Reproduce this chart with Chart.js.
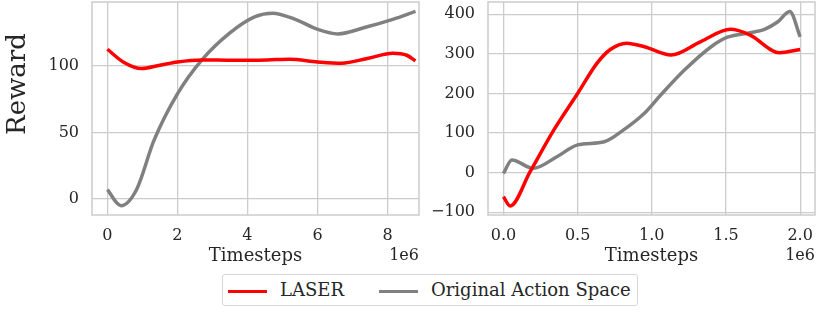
<!DOCTYPE html>
<html>
<head>
<meta charset="utf-8">
<script src="https://cdn.jsdelivr.net/npm/chart.js@4.4.1/dist/chart.umd.min.js"></script>
<style>
  body { margin: 0; background: #fff; }
  #wrap { position: relative; width: 830px; height: 312px; font-family: "DejaVu Serif", serif; color: #262626; }
  canvas { position: absolute; top: 0; }
  #left-chart { left: 0; }
  #right-chart { left: 420px; }
  .legend { position: absolute; left: 222px; top: 274px; width: 414px; height: 30px; border: 1px solid #d6d6d6; border-radius: 3px; font-size: 18px; }
  .legend-item { position: absolute; top: 0; height: 30px; line-height: 30px; white-space: nowrap; }
  .legend-swatch { display: inline-block; width: 39px; height: 3px; vertical-align: middle; margin-right: 13px; }
</style>
</head>
<body>
<div id="wrap">
  <canvas id="left-chart" width="420" height="270"></canvas>
  <canvas id="right-chart" width="410" height="270"></canvas>
  <div class="legend" id="legend"></div>
</div>
<script>
// data (timesteps in millions)
const seriesNames = ["LASER", "Original Action Space"]
const seriesColors = ["#ff0000", "#808080"]

// left panel
const leftLaserSteps = [0, 0.45, 0.98, 1.5, 2.0, 2.7, 3.6, 4.57, 5.2, 6.0, 6.68, 7.46, 8.15, 8.55, 8.8]
const leftLaser = [112.5, 103, 98, 100.5, 103, 104.5, 104.2, 104.5, 105, 103, 102, 105.8, 109.5, 108, 103.8]
const leftOriginalSteps = [0, 0.39, 0.83, 1.33, 2.0, 2.7, 3.49, 4.22, 4.71, 5.4, 5.99, 6.58, 7.37, 8.15, 8.8]
const leftOriginal = [7, -5, 7, 44, 79, 104.5, 124.6, 137, 139.6, 134.6, 127.6, 124, 129, 135, 141]

// right panel
const rightLaserSteps = [0, 0.045, 0.18, 0.34, 0.5, 0.63, 0.72, 0.83, 0.95, 1.13, 1.33, 1.53, 1.66, 1.86, 2.0]
const rightLaser = [-61, -84, 2.5, 108, 200, 276, 311, 327, 318, 297, 331, 362, 348, 303, 311]
const rightOriginalSteps = [0, 0.057, 0.2, 0.36, 0.5, 0.68, 0.81, 0.95, 1.06, 1.22, 1.4, 1.51, 1.67, 1.76, 1.85, 1.93, 2.0]
const rightOriginal = [-2, 32, 11, 40, 70, 78, 108, 150, 196, 259, 318, 342, 354, 362, 381, 407, 343]

const leftXTicks = [0, 2, 4, 6, 8]
const rightXTicks = [0, 0.5, 1.0, 1.5, 2.0]

const textColor = "#262626"
const gridColor = "#cccccc"
const fontFamily = "'DejaVu Serif', serif"

function toPoints(steps, values) {
  return steps.map((s, i) => ({ x: s, y: values[i] }))
}

function makeDataset(i, steps, values) {
  return {
    label: seriesNames[i],
    data: toPoints(steps, values),
    borderColor: seriesColors[i],
    borderWidth: 3.5,
    pointRadius: 0,
    cubicInterpolationMode: "monotone",
    fill: false,
  }
}

// draws the light frame round the plot area
const framePlugin = {
  id: "frame",
  beforeDatasetsDraw(chart) {
    const { ctx, chartArea: a } = chart
    ctx.save()
    ctx.strokeStyle = gridColor
    ctx.lineWidth = 1.5
    ctx.strokeRect(a.left, a.top, a.right - a.left, a.bottom - a.top)
    ctx.restore()
  },
}

// "1e6" offset text under the right end of the x axis
const offsetPlugin = {
  id: "offsetText",
  afterDraw(chart) {
    const { ctx, chartArea: a } = chart
    ctx.save()
    ctx.font = "16px " + fontFamily
    ctx.fillStyle = textColor
    ctx.textAlign = "right"
    ctx.textBaseline = "middle"
    ctx.fillText("1e6", a.right, 256)
    ctx.restore()
  },
}

// big "Reward" label on the left
const rewardPlugin = {
  id: "reward",
  afterDraw(chart) {
    const ctx = chart.ctx
    ctx.save()
    ctx.translate(18, 84)
    ctx.rotate(-Math.PI / 2)
    ctx.font = "26px " + fontFamily
    ctx.fillStyle = textColor
    ctx.textAlign = "center"
    ctx.textBaseline = "middle"
    ctx.fillText("Reward", 0, 0)
    ctx.restore()
  },
}

function makeOptions(cfg) {
  return {
    responsive: false,
    animation: false,
    devicePixelRatio: 1,
    layout: { padding: { top: 2, right: cfg.padRight, left: 0, bottom: 0 } },
    plugins: { legend: { display: false }, tooltip: { enabled: false } },
    scales: {
      x: {
        type: "linear",
        min: cfg.xMin,
        max: cfg.xMax,
        afterFit: (scale) => {
          scale.height = 55
          scale.paddingLeft = 0
          scale.paddingRight = 0
        },
        afterBuildTicks: (scale) => { scale.ticks = cfg.xTicks.map((v) => ({ value: v })) },
        border: { display: false },
        grid: { color: gridColor, lineWidth: 1.3, drawTicks: false },
        ticks: {
          padding: 11,
          color: textColor,
          font: { family: fontFamily, size: 16 },
          maxRotation: 0,
          callback: (v) => v.toFixed(cfg.xDigits),
        },
        title: {
          display: true,
          text: "Timesteps",
          color: textColor,
          font: { family: fontFamily, size: 18 },
          padding: { top: 0, bottom: 3 },
        },
      },
      y: {
        min: cfg.yMin,
        max: cfg.yMax,
        afterFit: (scale) => {
          scale.width = cfg.yWidth
          scale.paddingTop = 0
          scale.paddingBottom = 0
        },
        border: { display: false },
        grid: { color: gridColor, lineWidth: 1.3, drawTicks: false },
        ticks: {
          stepSize: cfg.yStep,
          includeBounds: false,
          padding: 13,
          color: textColor,
          font: { family: fontFamily, size: 16 },
          callback: (v) => (v < 0 ? "\u2212" + Math.abs(v) : String(v)),
        },
      },
    },
  }
}

let leftChart = new Chart(document.getElementById("left-chart"), {
  type: "line",
  data: {
    datasets: [
      makeDataset(0, leftLaserSteps, leftLaser),
      makeDataset(1, leftOriginalSteps, leftOriginal),
    ],
  },
  options: makeOptions({ padRight: 1, xMin: -0.44, xMax: 8.9, xTicks: leftXTicks, xDigits: 0, yMin: -12, yMax: 148, yStep: 50, yWidth: 92 }),
  plugins: [framePlugin, offsetPlugin, rewardPlugin],
})

let rightChart = new Chart(document.getElementById("right-chart"), {
  type: "line",
  data: {
    datasets: [
      makeDataset(0, rightLaserSteps, rightLaser),
      makeDataset(1, rightOriginalSteps, rightOriginal),
    ],
  },
  options: makeOptions({ padRight: 15, xMin: -0.104, xMax: 2.1, xTicks: rightXTicks, xDigits: 1, yMin: -107, yMax: 431, yStep: 100, yWidth: 68 }),
  plugins: [framePlugin, offsetPlugin],
})

// legend built from the series names and colours
const legend = document.getElementById("legend")
const itemLefts = [5, 156]
seriesNames.forEach((name, i) => {
  const item = document.createElement("div")
  item.className = "legend-item"
  item.style.left = itemLefts[i] + "px"
  const swatch = document.createElement("span")
  swatch.className = "legend-swatch"
  swatch.style.background = seriesColors[i]
  item.appendChild(swatch)
  item.appendChild(document.createTextNode(name))
  legend.appendChild(item)
})
</script>
</body>
</html>
